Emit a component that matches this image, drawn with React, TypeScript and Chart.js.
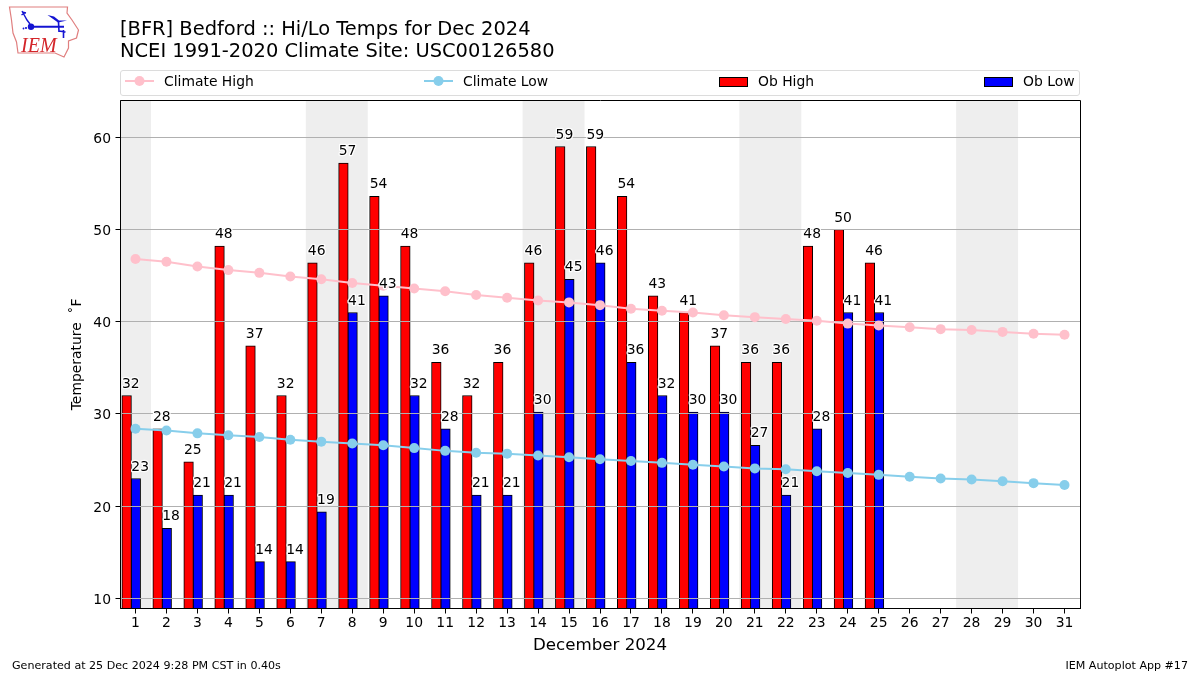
import React, { useEffect, useRef } from "react";
import { Chart, registerables } from "chart.js";

Chart.register(...registerables);

const titleLines = ["[BFR] Bedford :: Hi/Lo Temps for Dec 2024", "NCEI 1991-2020 Climate Site: USC00126580"];
const footerLeft = "Generated at 25 Dec 2024 9:28 PM CST in 0.40s";
const footerRight = "IEM Autoplot App #17";
const xTitle = "December 2024";
const yTitle = "Temperature  ˚F";

const days = [1,2,3,4,5,6,7,8,9,10,11,12,13,14,15,16,17,18,19,20,21,22,23,24,25,26,27,28,29,30,31];
const yTicks = [10,20,30,40,50,60];
const obHigh = [32,28.4,24.8,48.2,37.4,32,46.4,57.2,53.6,48.2,35.6,32,35.6,46.4,59,59,53.6,42.8,41,37.4,35.6,35.6,48.2,50,46.4];
const obLow = [23,17.6,21.2,21.2,14,14,19.4,41,42.8,32,28.4,21.2,21.2,30.2,44.6,46.4,35.6,32,30.2,30.2,26.6,21.2,28.4,41,41];
const climateHigh = [46.8,46.5,46.0,45.6,45.3,44.9,44.6,44.2,43.9,43.6,43.3,42.9,42.6,42.3,42.1,41.8,41.4,41.2,41.0,40.7,40.5,40.3,40.1,39.8,39.6,39.4,39.2,39.1,38.9,38.7,38.6];
const climateLow = [28.4,28.2,27.9,27.7,27.5,27.2,27.0,26.8,26.6,26.3,26.0,25.8,25.7,25.5,25.3,25.1,24.9,24.7,24.5,24.3,24.1,24.0,23.8,23.6,23.4,23.2,23.0,22.9,22.7,22.5,22.3];
const weekends: [number, number][] = [[0.5,1.5],[6.5,8.5],[13.5,15.5],[20.5,22.5],[27.5,29.5]];

const FONT = "'DejaVu Sans'";
const TICK_PX = 13.9;

const shadePlugin = {
  id: "shade",
  beforeDatasetsDraw(chart: any) {
    const { ctx, chartArea: a, scales } = chart;
    ctx.save();
    ctx.fillStyle = "#eeeeee";
    for (const [s, e] of weekends) {
      const x0 = scales.x.getPixelForValue(s);
      const x1 = scales.x.getPixelForValue(e);
      ctx.fillRect(x0, a.top, x1 - x0, a.bottom - a.top);
    }
    ctx.restore();
  },
};

// Matplotlib stacks bars < grid < lines < labels, so the grid is laid down right after the bars.
const gridPlugin = {
  id: "midGrid",
  afterDatasetDraw(chart: any, args: any) {
    if (args.index !== 2) return;
    const { ctx, chartArea: a, scales } = chart;
    ctx.save();
    ctx.strokeStyle = "#b0b0b0";
    ctx.lineWidth = 1;
    for (const t of yTicks) {
      const y = Math.floor(scales.y.getPixelForValue(t)) + 0.5;
      ctx.beginPath();
      ctx.moveTo(a.left, y);
      ctx.lineTo(a.right, y);
      ctx.stroke();
    }
    ctx.restore();
  },
};

const labelPlugin = {
  id: "valueLabels",
  afterDatasetsDraw(chart: any) {
    const { ctx, scales } = chart;
    ctx.save();
    ctx.font = `${TICK_PX}px ${FONT}`;
    ctx.textAlign = "center";
    ctx.textBaseline = "alphabetic";
    ctx.lineJoin = "round";
    const put = (vals: number[], off: number) => {
      vals.forEach((v, i) => {
        const x = scales.x.getPixelForValue(days[i] + off);
        const y = scales.y.getPixelForValue(v) - 8;
        const s = String(Math.round(v));
        ctx.strokeStyle = "#ffffff";
        ctx.lineWidth = 2.5;
        ctx.strokeText(s, x, y);
        ctx.fillStyle = "#000000";
        ctx.fillText(s, x, y);
      });
    };
    put(obHigh, -0.15);
    put(obLow, 0.15);
    const { left, right, top, bottom } = chart.chartArea;
    const b = Math.floor(bottom) + 0.5;
    const l = Math.floor(left) + 0.5;
    ctx.strokeStyle = "#000000";
    ctx.lineWidth = 1;
    ctx.strokeRect(l, Math.floor(top) + 0.5, Math.round(right - left), Math.round(bottom - top));
    // tick marks and y tick labels, placed from the scales
    ctx.beginPath();
    for (const d of days) {
      const x = Math.floor(scales.x.getPixelForValue(d)) + 0.5;
      ctx.moveTo(x, b);
      ctx.lineTo(x, b + 5);
    }
    ctx.stroke();
    ctx.fillStyle = "#000000";
    ctx.textAlign = "right";
    ctx.beginPath();
    for (const t of yTicks) {
      const y = Math.floor(scales.y.getPixelForValue(t)) + 0.5;
      ctx.moveTo(l, y);
      ctx.lineTo(l - 5, y);
      ctx.fillText(String(t), 111, y + 5);
    }
    ctx.stroke();
    ctx.restore();
  },
};

function LegendLine({ x, color, text, textX }: { x: number; color: string; text: string; textX: number }) {
  return (
    <>
      <svg style={{ position: "absolute", left: x, top: 74, overflow: "visible" }} width={29} height={14}>
        <line x1={0} x2={29} y1={7} y2={7} stroke={color} strokeWidth={2} />
        <circle cx={14.5} cy={7} r={5} fill={color} />
      </svg>
      <Txt x={textX} y={82} size={TICK_PX} text={text} />
    </>
  );
}

function LegendBox({ x, color, text, textX }: { x: number; color: string; text: string; textX: number }) {
  return (
    <>
      <div style={{ position: "absolute", left: x, top: 77, width: 27, height: 8, background: color, border: "1px solid #000", boxSizing: "content-box" }} />
      <Txt x={textX} y={82} size={TICK_PX} text={text} />
    </>
  );
}

function Txt({ x, y, size, text, right }: { x: number; y: number; size: number; text: string; right?: boolean }) {
  const pos: any = right ? { right: 1200 - x } : { left: x };
  return (
    <div style={{ position: "absolute", ...pos, top: y, transform: "translateY(-50%)", font: `${size}px ${FONT}`, color: "#000", whiteSpace: "nowrap", lineHeight: 1 }}>
      {text}
    </div>
  );
}

function Logo() {
  return (
    <svg style={{ position: "absolute", left: 0, top: 0 }} width={90} height={65} viewBox="0 0 90 65">
      <path d="M9.5 7 L67.5 7 L67 13 L72 20 L78.5 30 L76.5 38 L68.5 41 L68.5 48 L64 57 L55 53 L18 53 L16.5 42 L13 33 L11.5 20 Z" fill="#fff" stroke="#e07f7f" strokeWidth={1.2} />
      <g stroke="#1414d2" fill="#1414d2">
        <line x1={31} y1={26.7} x2={64} y2={26.7} strokeWidth={2} />
        <circle cx={31} cy={26.7} r={3.2} stroke="none" />
        <path d="M22 11 L27 20 L30 24 M22 12 L26 13 M21.5 15 L24.5 13" fill="none" strokeWidth={1.4} />
        <path d="M47.5 15 L54 16.5 L59 20.5 L67 20.5 L58 22.5 Z" stroke="none" />
        <path d="M58.5 22 L59 32 M63.5 30 L63.5 38 M59 31 L65.5 32" fill="none" strokeWidth={1.6} />
        <circle cx={26} cy={28} r={1.1} stroke="none" />
        <circle cx={23.5} cy={28.5} r={0.9} stroke="none" />
      </g>
      <text x={21} y={52} fontFamily="'Liberation Serif'" fontStyle="italic" fontSize={20} fill="#d4252a">IEM</text>
    </svg>
  );
}

export default function App() {
  const ref = useRef<HTMLCanvasElement>(null);
  useEffect(() => {
    const chart = new Chart(ref.current as HTMLCanvasElement, {
      type: "bar",
      data: {
        datasets: [
          { type: "line", label: "Climate High", data: days.map((d, i) => ({ x: d, y: climateHigh[i] })), borderColor: "#ffc0cb", backgroundColor: "#ffc0cb", borderWidth: 2, pointRadius: 5, pointBorderWidth: 0, order: 0, tension: 0 },
          { type: "line", label: "Climate Low", data: days.map((d, i) => ({ x: d, y: climateLow[i] })), borderColor: "#87ceeb", backgroundColor: "#87ceeb", borderWidth: 2, pointRadius: 5, pointBorderWidth: 0, order: 0, tension: 0 },
          { type: "bar", label: "Ob High", data: obHigh.map((v, i) => ({ x: days[i] - 0.285, y: v })), backgroundColor: "#ff0000", borderColor: "#000000", borderWidth: 1, borderSkipped: false, barThickness: 9.6, grouped: false, order: 2 },
          { type: "bar", label: "Ob Low", data: obLow.map((v, i) => ({ x: days[i] + 0.01, y: v })), backgroundColor: "#0000ff", borderColor: "#000000", borderWidth: 1, borderSkipped: false, barThickness: 9.6, grouped: false, order: 2 },
        ],
      } as any,
      options: {
        animation: false,
        responsive: false,
        events: [],
        layout: { padding: { left: 50, right: 120, top: 100.4, bottom: 16.6 } },
        plugins: { legend: { display: false }, title: { display: false }, tooltip: { enabled: false } },
        scales: {
          x: {
            type: "linear",
            offset: false,
            min: 0.5,
            max: 31.5,
            afterBuildTicks: (s: any) => { s.ticks = days.map((v) => ({ value: v })); },
            afterFit: (s: any) => { s.height = 50; },
            grid: { offset: false, drawOnChartArea: false, drawTicks: false },
            border: { color: "#000", width: 1 },
            ticks: { color: "#000", font: { family: FONT, size: TICK_PX }, padding: 7, maxRotation: 0, autoSkip: false, includeBounds: false },
            title: { display: true, text: xTitle, color: "#000", font: { family: FONT, size: 16.67 }, padding: { top: 0, bottom: 3 } },
          },
          y: {
            type: "linear",
            min: 8.92,
            max: 64,
            afterBuildTicks: (s: any) => { s.ticks = yTicks.map((v) => ({ value: v })); },
            afterFit: (s: any) => { s.width = 70; },
            grid: { drawOnChartArea: false, drawTicks: false },
            border: { color: "#000", width: 1 },
            ticks: { display: false, includeBounds: false },
            title: { display: true, text: yTitle, color: "#000", font: { family: FONT, size: TICK_PX }, padding: { top: 19, bottom: 0 } },
          },
        },
      } as any,
      plugins: [shadePlugin, gridPlugin, labelPlugin],
    });
    return () => chart.destroy();
  }, []);

  return (
    <div style={{ position: "absolute", left: 0, top: 0, width: 1200, height: 675, background: "#fff", overflow: "hidden" }}>
      <canvas ref={ref} width={1200} height={675} style={{ position: "absolute", left: 0, top: 0 }} />
      <Logo />
      <Txt x={120} y={29} size={19.45} text={titleLines[0]} />
      <Txt x={120} y={51} size={19.45} text={titleLines[1]} />
      <div style={{ position: "absolute", left: 120, top: 70, width: 960, height: 26, boxSizing: "border-box", border: "1px solid #dcdcdc", borderRadius: 3 }} />
      <LegendLine x={125} color="#ffc0cb" text="Climate High" textX={164} />
      <LegendLine x={424} color="#87ceeb" text="Climate Low" textX={463} />
      <LegendBox x={719} color="#ff0000" text="Ob High" textX={758} />
      <LegendBox x={984} color="#0000ff" text="Ob Low" textX={1023} />
      <Txt x={12} y={666} size={11.1} text={footerLeft} />
      <Txt x={1188} y={666} size={11.1} text={footerRight} right />
    </div>
  );
}
